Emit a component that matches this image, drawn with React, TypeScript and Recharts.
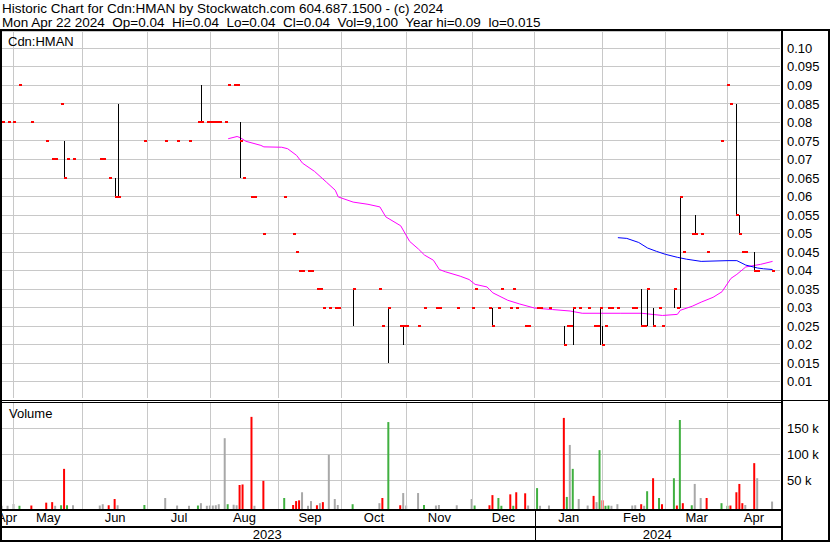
import React from 'react';
import {
  ComposedChart,
  BarChart,
  Bar,
  Scatter,
  Line,
  XAxis,
  YAxis,
  CartesianGrid,
  ReferenceLine,
  ErrorBar,
  Cell,
} from 'recharts';

// x positions are weekday indexes, 0 = Mon May 1 2023, 255 = Mon Apr 22 2024
const DAY_IDX = [
  -4, -2, 0, 2, 6, 11, 13, 14, 16, 17, 18, 20,
  29, 30, 32, 34, 35, 44,
  51, 55, 59, 62, 63, 65,
  66, 67, 68, 69, 71, 72, 74, 75, 76, 77, 80, 81, 84,
  91, 94, 95, 96, 97, 99, 100, 102, 103, 104, 106, 108, 109,
  114, 123, 124, 126, 130, 131,
  132, 136, 138, 142, 143, 149,
  154, 155, 160, 161, 163, 164, 167, 168, 169, 172, 173,
  176, 177, 180, 185, 186, 187, 188, 190, 193, 195, 196, 197,
  198, 199, 200, 201, 203, 208, 209, 211, 212, 213, 215, 217, 218,
  222, 223, 224, 225, 228, 229, 231, 233, 238,
  240, 241, 243, 244, 245, 246, 249, 250, 255,
];

const CLOSE = [
  0.08, 0.08, 0.08, 0.09, 0.08, 0.075, 0.07, 0.07, 0.085, 0.065, 0.07, 0.07,
  0.07, 0.07, 0.065, 0.06, 0.06, 0.075,
  0.075, 0.075, 0.075, 0.08, 0.08, 0.08,
  0.08, 0.08, 0.08, 0.08, 0.08, 0.09, 0.09, 0.09, 0.075, 0.065, 0.06, 0.06, 0.05,
  0.06, 0.05, 0.045, 0.04, 0.04, 0.04, 0.04, 0.035, 0.035, 0.03, 0.03, 0.03, 0.03,
  0.035, 0.035, 0.025, 0.03, 0.025, 0.025,
  0.025, 0.025, 0.03, 0.03, 0.03, 0.03,
  0.03, 0.035, 0.03, 0.025, 0.03, 0.035, 0.03, 0.035, 0.03, 0.025, 0.025,
  0.03, 0.03, 0.03, 0.02, 0.025, 0.025, 0.03, 0.03, 0.03, 0.025, 0.025, 0.03,
  0.02, 0.025, 0.03, 0.03, 0.03, 0.03, 0.03, 0.025, 0.025, 0.035, 0.025, 0.03, 0.025,
  0.035, 0.03, 0.06, 0.045, 0.05, 0.05, 0.05, 0.045, 0.075,
  0.09, 0.085, 0.055, 0.05, 0.045, 0.045, 0.04, 0.04, 0.04,
];

const VOLUME = [
  1000, 1000, 4400, 1000, 1500, 7000, 8000, 1000, 2000, 72000, 2000, 2000,
  1500, 4000, 2000, 14000, 2000, 2500,
  16000, 1500, 1000, 1500, 6000, 1000,
  1500, 1500, 2000, 4000, 131000, 4000, 3000, 2000, 41000, 42000, 172000, 1000, 49000,
  16000, 2500, 10000, 11500, 27000, 1000, 10000, 2000, 6000, 8000, 99000, 14000, 2500,
  4000, 6000, 16000, 162000, 2000, 25500,
  1500, 25500, 2500, 1500, 2500, 2000,
  14000, 1500, 2000, 21500, 16000, 1000, 23000, 1000, 27000, 25000, 1500,
  35000, 1000, 1500, 170000, 18000, 118000, 72000, 14000, 1500, 20000, 8000, 108000,
  11500, 1000, 1500, 1000, 4000, 1500, 2000, 4000, 1000, 29000, 54000, 16000, 4000,
  54000, 1500, 166000, 6000, 2000, 43000, 16000, 16000, 6000,
  1000, 1500, 27000, 43000, 6000, 2500, 83000, 54000, 9100,
];

// days that traded in a range (black high-low stroke)
const RANGE_IDX = [17, 34, 35, 63, 76, 114, 126, 131, 161, 185, 188, 197, 198, 211, 213, 215, 222, 224, 229, 243, 244, 249];
const RANGE_HIGH = [0.075, 0.065, 0.085, 0.09, 0.08, 0.035, 0.03, 0.025, 0.03, 0.025, 0.03, 0.03, 0.025, 0.035, 0.035, 0.03, 0.035, 0.06, 0.055, 0.085, 0.055, 0.045];
const RANGE_LOW = [0.065, 0.06, 0.06, 0.08, 0.065, 0.025, 0.015, 0.02, 0.025, 0.02, 0.02, 0.02, 0.02, 0.025, 0.025, 0.025, 0.03, 0.03, 0.05, 0.055, 0.05, 0.04];

const MA50_IDX = [72, 75, 76, 78, 83, 84, 90, 92, 95, 97, 101, 105, 108, 109, 114, 119, 123, 125, 130, 133, 136, 138, 141, 143, 145, 150, 153, 155, 159, 161, 166, 170, 175, 181, 187, 191, 204, 211, 218, 223, 224, 228, 231, 235, 238, 241, 243, 246, 251, 255];
const MA50 = [0.0756, 0.0762, 0.0759, 0.0749, 0.0738, 0.0734, 0.0733, 0.0729, 0.0711, 0.069, 0.0668, 0.0639, 0.0617, 0.0599, 0.0585, 0.0579, 0.0572, 0.0545, 0.0521, 0.0479, 0.0458, 0.0442, 0.0428, 0.0403, 0.0397, 0.0385, 0.0376, 0.0363, 0.0356, 0.034, 0.032, 0.031, 0.0299, 0.0295, 0.0291, 0.0285, 0.0285, 0.0285, 0.0279, 0.0282, 0.0293, 0.0304, 0.0315, 0.0328, 0.0343, 0.0379, 0.039, 0.041, 0.0417, 0.0425];

const MA200_IDX = [203, 206, 210, 213, 216, 219, 223, 226, 231, 240, 243, 246, 250, 252, 255];
const MA200 = [0.0489, 0.0487, 0.0476, 0.0461, 0.0452, 0.0444, 0.0436, 0.0431, 0.0425, 0.0427, 0.0427, 0.0415, 0.0407, 0.0405, 0.0403];

const MONTH_START_IDX = [0, 23, 45, 66, 89, 110, 132, 154, 175, 198, 219, 240];
const MONTH_NAMES = ['Apr', 'May', 'Jun', 'Jul', 'Aug', 'Sep', 'Oct', 'Nov', 'Dec', 'Jan', 'Feb', 'Mar', 'Apr'];
const YEAR_START_IDX = [175];
const YEARS = ['2023', '2024'];

const PRICE_TICKS = [0.01, 0.015, 0.02, 0.025, 0.03, 0.035, 0.04, 0.045, 0.05, 0.055, 0.06, 0.065, 0.07, 0.075, 0.08, 0.085, 0.09, 0.095, 0.1];
const PRICE_TICK_LABELS = ['0.01', '0.015', '0.02', '0.025', '0.03', '0.035', '0.04', '0.045', '0.05', '0.055', '0.06', '0.065', '0.07', '0.075', '0.08', '0.085', '0.09', '0.095', '0.10'];
const VOL_TICKS = [50000, 100000, 150000];
const VOL_TICK_LABELS = ['50 k', '100 k', '150 k'];

const X_MIN = -4.7;
const X_MAX = 257.5;
const P_MIN = 0.00563;
const P_MAX = 0.10467;
const VOL_MIN = -5200;
const VOL_MAX = 200600;

const GRID = '#c8c8c8';
const RED = '#ff0000';
const GREEN = '#40b040';
const GREY = '#a8a8a8';
const FONT = '"Liberation Sans", Arial, sans-serif';

const dayRows = DAY_IDX.map((i, k) => ({ i, close: CLOSE[k] }));
const rangeRows = RANGE_IDX.map((i, k) => ({ i, low: RANGE_LOW[k], err: [0, RANGE_HIGH[k] - RANGE_LOW[k]] }));
const ma50Rows = MA50_IDX.map((i, k) => ({ i, v: MA50[k] }));
const ma200Rows = MA200_IDX.map((i, k) => ({ i, v: MA200[k] }));
const volRows = DAY_IDX.map((i, k) => {
  const prev = k > 0 ? CLOSE[k - 1] : CLOSE[k];
  const color = CLOSE[k] > prev ? GREEN : CLOSE[k] < prev ? RED : GREY;
  return { i, vol: [VOL_MIN, VOLUME[k]], color };
});

const monthBounds = [X_MIN, ...MONTH_START_IDX, X_MAX];
const monthLabelIdx = MONTH_NAMES.map((_, k) => (monthBounds[k] + monthBounds[k + 1]) / 2);
const yearBounds = [X_MIN, ...YEAR_START_IDX, X_MAX];
const yearLabelIdx = YEARS.map((_, k) => (yearBounds[k] + yearBounds[k + 1]) / 2);

const pick = (vals: number[], labels: string[], v: number) => {
  let best = 0;
  vals.forEach((x, k) => {
    if (Math.abs(x - v) < Math.abs(vals[best] - v)) best = k;
  });
  return labels[best];
};

const tickStyle = { fontSize: 13, fill: '#000', fontFamily: FONT };

function CloseTick(props: any) {
  const { cx, cy } = props;
  if (cx == null || cy == null) return <g />;
  return <rect x={cx - 0.5} y={cy - 1} width={3} height={2} fill={RED} shapeRendering="crispEdges" />;
}

const rule = (left: number, top: number, width: number, height: number) => (
  <div style={{ position: 'absolute', left, top, width, height, background: '#000' }} />
);

export default function App() {
  return (
    <div style={{ position: 'relative', width: 830, height: 543, background: '#fff', fontFamily: FONT, overflow: 'hidden' }}>
      <style>{`body{margin:0}
.recharts-cartesian-grid line,.recharts-reference-line line,.recharts-errorBar line{shape-rendering:crispEdges}`}</style>

      <div style={{ position: 'absolute', left: 2, top: 1, fontSize: 13.5, lineHeight: '15px', whiteSpace: 'pre' }}>
        Historic Chart for Cdn:HMAN by Stockwatch.com 604.687.1500 - (c) 2024
      </div>
      <div style={{ position: 'absolute', left: 2, top: 15, fontSize: 13.5, lineHeight: '15px', whiteSpace: 'pre' }}>
        {'Mon Apr 22 2024  Op=0.04  Hi=0.04  Lo=0.04  Cl=0.04  Vol=9,100  Year hi=0.09  lo=0.015'}
      </div>

      <div style={{ position: 'absolute', left: 0, top: 31 }}>
        <ComposedChart width={830} height={367} margin={{ top: 0, right: 0, bottom: 0, left: 0 }}>
          <CartesianGrid stroke={GRID} vertical={false} />
          <XAxis type="number" dataKey="i" domain={[X_MIN, X_MAX]} allowDataOverflow hide />
          <YAxis
            orientation="right"
            type="number"
            domain={[P_MIN, P_MAX]}
            allowDataOverflow
            ticks={PRICE_TICKS}
            interval={0}
            tickFormatter={(v: number) => pick(PRICE_TICKS, PRICE_TICK_LABELS, v)}
            width={50}
            axisLine={false}
            tickLine={false}
            tickSize={0}
            tickMargin={7}
            tick={tickStyle}
          />
          {MONTH_START_IDX.map((i) => (
            <ReferenceLine key={i} x={i} stroke={GRID} />
          ))}
          <Line data={ma50Rows} dataKey="v" stroke="#ff00ff" strokeWidth={1} dot={false} isAnimationActive={false} />
          <Line data={ma200Rows} dataKey="v" stroke="#0000ff" strokeWidth={1} dot={false} isAnimationActive={false} />
          <Scatter data={rangeRows} dataKey="low" shape={() => <g />} isAnimationActive={false}>
            <ErrorBar dataKey="err" direction="y" width={0} stroke="#000" strokeWidth={1} />
          </Scatter>
          <Scatter data={dayRows} dataKey="close" shape={CloseTick} isAnimationActive={false} />
        </ComposedChart>
      </div>

      <div style={{ position: 'absolute', left: 0, top: 402 }}>
        <BarChart width={830} height={141} data={volRows} margin={{ top: 0, right: 0, bottom: 0, left: 0 }}>
          <CartesianGrid stroke={GRID} vertical={false} xAxisId="m" />
          <XAxis
            xAxisId="m"
            type="number"
            dataKey="i"
            domain={[X_MIN, X_MAX]}
            allowDataOverflow
            ticks={monthLabelIdx}
            interval={0}
            tickFormatter={(v: number) => pick(monthLabelIdx, MONTH_NAMES, v)}
            height={17}
            axisLine={false}
            tickLine={false}
            tickSize={0}
            tickMargin={4}
            tick={tickStyle}
          />
          <XAxis
            xAxisId="y"
            type="number"
            dataKey="i"
            domain={[X_MIN, X_MAX]}
            allowDataOverflow
            ticks={yearLabelIdx}
            interval={0}
            tickFormatter={(v: number) => pick(yearLabelIdx, YEARS, v)}
            height={17}
            axisLine={false}
            tickLine={false}
            tickSize={0}
            tickMargin={4}
            tick={tickStyle}
          />
          <YAxis
            orientation="right"
            type="number"
            domain={[VOL_MIN, VOL_MAX]}
            allowDataOverflow
            ticks={VOL_TICKS}
            interval={0}
            tickFormatter={(v: number) => pick(VOL_TICKS, VOL_TICK_LABELS, v)}
            width={50}
            axisLine={false}
            tickLine={false}
            tickSize={0}
            tickMargin={7}
            tick={tickStyle}
          />
          {MONTH_START_IDX.map((i) => (
            <ReferenceLine key={i} xAxisId="m" x={i} stroke={GRID} />
          ))}
          <Bar xAxisId="m" dataKey="vol" barSize={2} isAnimationActive={false}>
            {volRows.map((r) => (
              <Cell key={r.i} fill={r.color} />
            ))}
          </Bar>
        </BarChart>
      </div>

      <div style={{ position: 'absolute', left: 8, top: 34, fontSize: 13, lineHeight: '15px' }}>Cdn:HMAN</div>
      <div style={{ position: 'absolute', left: 9, top: 406, fontSize: 13, lineHeight: '15px' }}>Volume</div>

      {rule(0, 29, 830, 2)}
      {rule(0, 29, 2, 513)}
      {rule(828, 29, 2, 513)}
      {rule(781, 29, 2, 513)}
      {rule(0, 400, 830, 1)}
      {rule(0, 402, 781, 1)}
      {rule(0, 509, 783, 2)}
      {rule(0, 526, 783, 2)}
      {rule(0, 540, 830, 2)}
      {rule(535, 509, 1, 33)}
    </div>
  );
}
